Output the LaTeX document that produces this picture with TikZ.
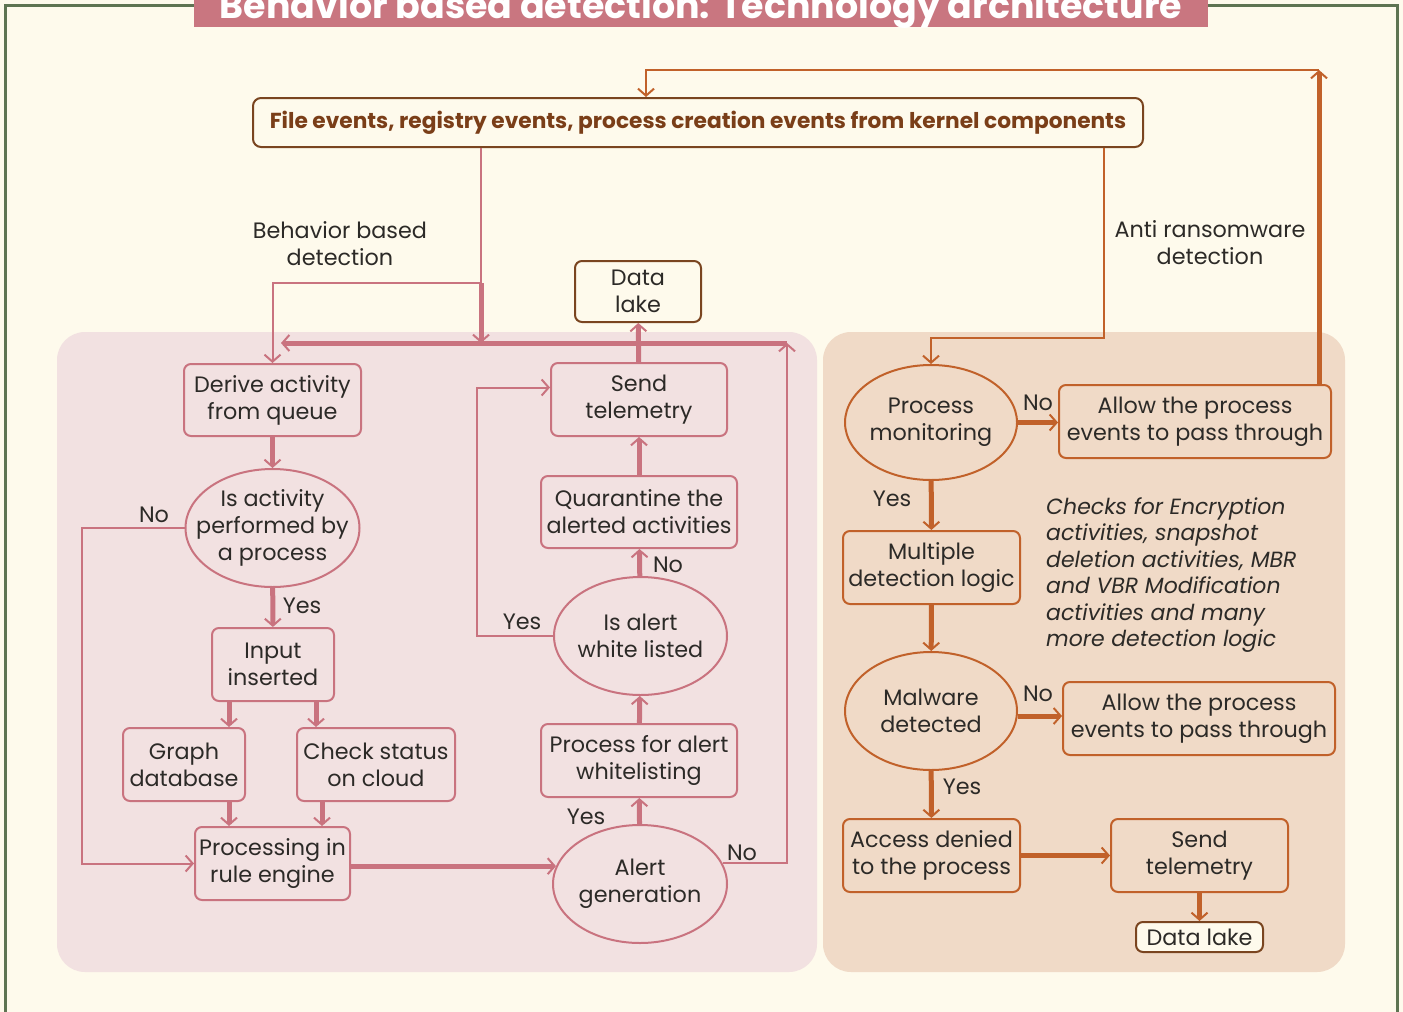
\documentclass[tikz,border=0pt]{standalone}
\usepackage{fontspec}
\setmainfont{Poppins}
\usetikzlibrary{arrows.meta,shapes.geometric,calc}
\definecolor{bgcream}{HTML}{FEFAEC}
\definecolor{framegreen}{HTML}{5E7452}
\definecolor{titlepink}{HTML}{C97680}
\definecolor{pinkpanel}{HTML}{F2E1E1}
\definecolor{peachpanel}{HTML}{F0DAC7}
\definecolor{pinkline}{HTML}{C9737F}
\definecolor{orangeline}{HTML}{C1612A}
\definecolor{brownline}{HTML}{7A4520}
\definecolor{topbrown}{HTML}{7A3E18}
\definecolor{textdark}{HTML}{2C2A27}
\newcommand\myfnt{\fontsize{22.3}{27}\selectfont}
\begin{document}
\begin{tikzpicture}[x=1pt,y=-1pt,
  pbox/.style={draw=pinkline, line width=2, rounded corners=7, align=center, inner sep=0, text=textdark, font=\myfnt},
  obox/.style={draw=orangeline, line width=2, rounded corners=7, align=center, inner sep=0, text=textdark, font=\myfnt},
  bbox/.style={draw=brownline, line width=2, rounded corners=7, fill=bgcream, align=center, inner sep=0, text=textdark, font=\myfnt},
  pell/.style={ellipse, draw=pinkline, line width=2, inner sep=0},
  oell/.style={ellipse, draw=orangeline, line width=2, inner sep=0},
  lbl/.style={align=center, text=textdark, font=\myfnt, inner sep=0},
  pthick/.style={draw=pinkline, line width=5, -{Straight Barb[length=7pt,width=16pt,line width=2pt]}},
  pthin/.style={draw=pinkline, line width=2, -{Straight Barb[length=7pt,width=16pt,line width=2pt]}},
  othick/.style={draw=orangeline, line width=5, -{Straight Barb[length=7pt,width=16pt,line width=2pt]}},
  othin/.style={draw=orangeline, line width=2, -{Straight Barb[length=7pt,width=16pt,line width=2pt]}},
]
\clip (0,0) rectangle (1403,1012);
\fill[bgcream] (0,0) rectangle (1403,1012);
\draw[framegreen, line width=3] (5,5) rectangle (1397,1040);
% title
\fill[titlepink] (194,-20) rectangle (1208,27);
\node[anchor=base, text=white, font=\fontsize{36.4}{42}\bfseries\selectfont, inner sep=0] (title) at (701,18) {Behavior based detection: Technology architecture};
% panels
\fill[pinkpanel, rounded corners=28] (57,332) rectangle (817,972);
\fill[peachpanel, rounded corners=28] (823,332) rectangle (1345,972);
% top box
\node[draw=brownline, line width=2, rounded corners=8, fill=bgcream, minimum width=890, minimum height=49, inner sep=0, text=topbrown, font=\fontsize{21.7}{26}\bfseries\selectfont] (top) at (698,122.5) {File events, registry events, process creation events from kernel components};
% group labels
\node[lbl] (bbd) at (340,244) {Behavior based\\detection};
\node[lbl] (ard) at (1210,243) {Anti ransomware\\detection};
% left nodes
\node[bbox, minimum width=126, minimum height=61] (dl) at (638,291.5) {Data\\lake};
\node[pbox, minimum width=177, minimum height=72] (derive) at (272.5,400) {Derive activity\\from queue};
\node[pell, minimum width=174, minimum height=118, label={[lbl]center:{Is activity\\performed by\\a process}}] (isact) at (272.5,528) {};
\node[pbox, minimum width=122, minimum height=73] (input) at (273,664.5) {Input\\inserted};
\node[pbox, minimum width=122, minimum height=73] (graph) at (184,764.5) {Graph\\database};
\node[pbox, minimum width=158, minimum height=73] (check) at (376,764.5) {Check status\\on cloud};
\node[pbox, minimum width=155, minimum height=73] (proc) at (272.5,863.5) {Processing in\\rule engine};
\node[pell, minimum width=174, minimum height=118, label={[lbl]center:{Alert\\generation}}] (alert) at (640,884) {};
\node[pbox, minimum width=196, minimum height=73] (wl) at (639,760.5) {Process for alert\\whitelisting};
\node[pell, minimum width=173, minimum height=118, label={[lbl]center:{Is alert\\white listed}}] (isalert) at (640.5,636) {};
\node[pbox, minimum width=196, minimum height=72] (quar) at (639,512) {Quarantine the\\alerted activities};
\node[pbox, minimum width=176, minimum height=73] (send) at (639,399.5) {Send\\telemetry};
% right nodes
\node[oell, minimum width=172, minimum height=115, label={[lbl]center:{Process\\monitoring}}] (pm) at (931,422.5) {};
\node[obox, minimum width=272, minimum height=73] (allow1) at (1195,421.5) {Allow the process\\events to pass through};
\node[obox, minimum width=177, minimum height=73] (mult) at (931.5,567.5) {Multiple\\detection logic};
\node[oell, minimum width=172, minimum height=118, label={[lbl]center:{Malware\\detected}}] (mal) at (931,711) {};
\node[obox, minimum width=272, minimum height=73] (allow2) at (1199,718.5) {Allow the process\\events to pass through};
\node[obox, minimum width=177, minimum height=73] (acc) at (931.5,855.5) {Access denied\\to the process};
\node[obox, minimum width=177, minimum height=73] (send2) at (1199.5,855.5) {Send\\telemetry};
\node[bbox, minimum width=127, minimum height=30] (dl2) at (1199.5,937) {Data lake};
\node[anchor=west, align=left, inner sep=0, text=textdark, font=\fontsize{22}{26.4}\itshape\selectfont] (note) at (1046,575) {Checks for Encryption\\activities, snapshot\\deletion activities, MBR\\and VBR Modification\\activities and many\\more detection logic};
% coordinates
\coordinate (bsplit) at (481,283);
\coordinate (bdrop) at (481,343);
\coordinate (rcorner) at (787,343);
\coordinate (lend) at (281,343);
\coordinate (ttop) at (1319,70);
\coordinate (acorner) at (1104,338);
% left connectors
\draw[pinkline, line width=2] ([xshift=-217]top.south) -- (bsplit);
\draw[pthin] (bsplit) -| (derive.north);
\draw[pthick] (bsplit) -- (bdrop);
\draw[pthick] (rcorner) -- (lend);
\draw[pthin] (alert.14.5) -| (rcorner);
\draw[pthick] (derive) -- (isact);
\draw[pthick] (isact) -- (input);
\draw[pthick] ([xshift=-44]input.south) -- ([xshift=-44]input.south |- graph.north);
\draw[pthick] ([xshift=43]input.south) -- ([xshift=43]input.south |- check.north);
\draw[pthick] ([xshift=45]graph.south) -- ([xshift=45]graph.south |- proc.north);
\draw[pthick] ([xshift=-54]check.south) -- ([xshift=-54]check.south |- proc.north);
\draw[pthin] (isact.west) -- ++(-103,0) |- (proc.west);
\draw[pthick] (proc.east |- alert.168) -- (alert.168);
\draw[pthick] (alert) -- (wl);
\draw[pthick] (wl) -- (isalert);
\draw[pthick] (isalert) -- (quar);
\draw[pthick] (quar) -- (send);
\draw[pthick] (send) -- (dl);
\draw[pthin] (isalert.west) -- ++(-76,0) |- ([yshift=12]send.west);
% right connectors
\draw[othin] ([xshift=406]top.south) -- (acorner) -| (pm.north);
\draw[othick] (pm.east) -- (pm.east -| allow1.west);
\draw[othick] ([xshift=124]allow1.north) -- (ttop);
\draw[othin] (ttop) -| ([xshift=-52]top.north);
\draw[othick] (pm) -- (mult);
\draw[othick] (mult) -- (mal);
\draw[othick] ([yshift=-5]mal.east) -- ([yshift=-5]mal.east -| allow2.west);
\draw[othick] (mal) -- (acc);
\draw[othick] (acc) -- (send2);
\draw[othick] (send2) -- (dl2);
% yes/no labels
\node[lbl] (l1) at (154,515) {No};
\node[lbl] (l2) at (302,606) {Yes};
\node[lbl] (l3) at (522,622) {Yes};
\node[lbl] (l4) at (668,565) {No};
\node[lbl] (l5) at (586,817) {Yes};
\node[lbl] (l6) at (742,853) {No};
\node[lbl] (l7) at (1038,403) {No};
\node[lbl] (l8) at (892,499) {Yes};
\node[lbl] (l9) at (1038,694) {No};
\node[lbl] (l10) at (962,787) {Yes};
\end{tikzpicture}
\end{document}
